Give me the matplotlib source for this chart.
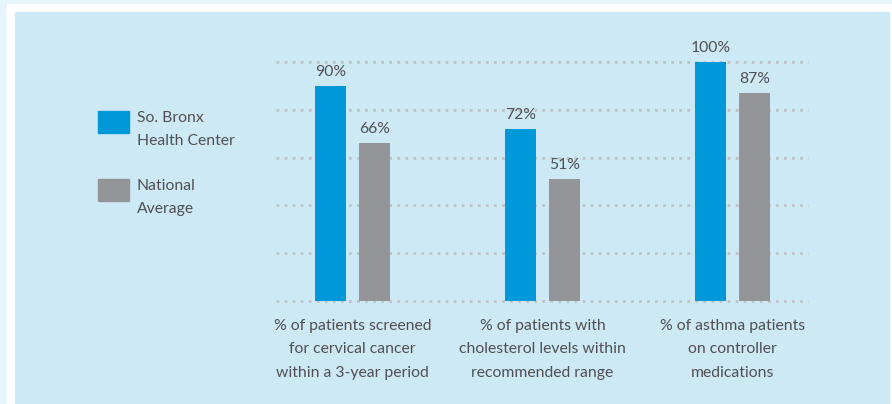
import matplotlib
matplotlib.use("Agg")
import matplotlib.pyplot as plt
from matplotlib.patches import Rectangle
import numpy as np

categories = ["% of patients screened\nfor cervical cancer\nwithin a 3-year period",
              "% of patients with\ncholesterol levels within\nrecommended range",
              "% of asthma patients\non controller\nmedications"]
bronx = [90, 72, 100]
national = [66, 51, 87]
series_names = ["So. Bronx\nHealth Center", "National\nAverage"]
yticks = [0, 20, 40, 60, 80, 100]

BLUE = "#0098d9"
GRAY = "#939598"
TEXT = "#505052"
PANEL = "#cde9f6"
OUTER = "#e6f4fb"

plt.rcParams['font.family'] = ['Lato', 'DejaVu Sans']

W, H = 892, 404
fig = plt.figure(figsize=(W / 100, H / 100), dpi=100)
fig.patch.set_facecolor(OUTER)

def px_rect(x0, y0, x1, y1, color):
    fig.patches.append(Rectangle((x0 / W, 1 - y1 / H), (x1 - x0) / W, (y1 - y0) / H,
                                 transform=fig.transFigure, color=color, zorder=-10))

px_rect(7, 4, 892, 404, "white")
px_rect(15, 12, 889, 404, PANEL)

ax_l, ax_r, ax_t, ax_b = 276, 808, 62, 301
ax = fig.add_axes([ax_l / W, 1 - ax_b / H, (ax_r - ax_l) / W, (ax_b - ax_t) / H])
ax.set_facecolor("none")

x = np.arange(len(categories))
bw = 31 / 190
off = 22 / 190
ax.set_xlim((ax_l - 352.5) / 190, (ax_r - 352.5) / 190)
ax.set_ylim(0, 100)

for yv in yticks:
    ax.axhline(yv, color="#bfc3c5", linestyle=(0, (1.0, 1.9)), linewidth=2.0, zorder=0, clip_on=False)

ax.bar(x - off, bronx, width=bw, color=BLUE, zorder=2)
ax.bar(x + off, national, width=bw, color=GRAY, zorder=2)

FS = 11.3
for xs, vals in ((x - off, bronx), (x + off, national)):
    for xi, v in zip(xs, vals):
        ax.text(xi, v + 3.0, f"{v}%", ha="center", va="bottom", fontsize=FS,
                color=TEXT, clip_on=False)

for xi, c in zip(x, categories):
    ax.text(xi, -7.5, c, ha="center", va="top", fontsize=FS, color=TEXT,
            linespacing=1.85, clip_on=False)

for s in ax.spines.values():
    s.set_visible(False)
ax.set_xticks([])
ax.set_yticks([])

# legend
leg_items = [(series_names[0], BLUE, 111), (series_names[1], GRAY, 179)]
for name, col, ytop in leg_items:
    px_rect(98, ytop, 129, ytop + 22, col)
    fig.text(137 / W, 1 - ytop / H, name, ha="left", va="top", fontsize=FS,
             color=TEXT, linespacing=1.85)

fig.savefig("out.png", dpi=100, facecolor=fig.get_facecolor())
